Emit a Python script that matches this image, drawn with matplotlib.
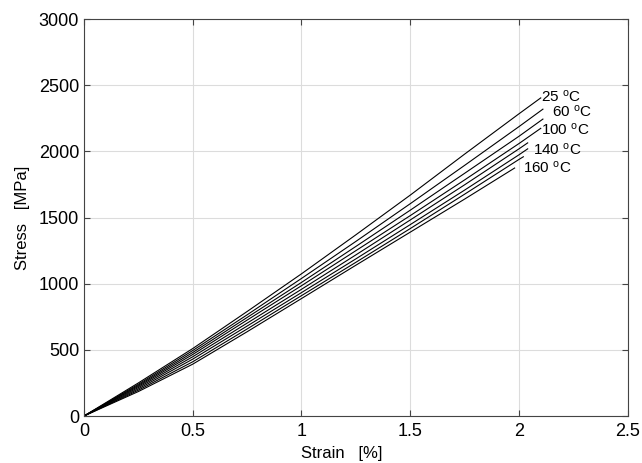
import numpy as np
import matplotlib
matplotlib.use("Agg")
import matplotlib.pyplot as plt

plt.rcParams['font.family'] = ['Liberation Sans', 'DejaVu Sans']
plt.rcParams['mathtext.fontset'] = 'custom'
plt.rcParams['mathtext.rm'] = 'Liberation Sans'
plt.rcParams['mathtext.default'] = 'regular'

# strain [%] sample points, last point of each curve is its own end
strain_pts = [0, 0.25, 0.5, 0.75, 1.0, 1.25, 1.5, 1.75, 2.0]
end_strain = [2.10, 2.11, 2.11, 2.10, 2.04, 2.04, 2.02, 1.98]
end_stress = [2405, 2320, 2245, 2175, 2065, 2020, 1960, 1875]

c0 = [0, 250, 510, 790, 1075, 1370, 1670, 1980, 2285]
c1 = [0, 240, 495, 765, 1040, 1320, 1605, 1895, 2188]
c2 = [0, 232, 480, 745, 1010, 1282, 1556, 1835, 2115]
c3 = [0, 224, 465, 725, 985, 1250, 1515, 1785, 2060]
c4 = [0, 215, 448, 702, 958, 1218, 1482, 1748, 2020]
c5 = [0, 205, 430, 680, 933, 1188, 1447, 1708, 1975]
c6 = [0, 195, 410, 658, 910, 1162, 1417, 1677, 1940]
c7 = [0, 185, 392, 637, 888, 1140, 1390, 1640]
curves = [c0, c1, c2, c3, c4, c5, c6, c7]

labels = ['25 $^o$C', '60 $^o$C', '100 $^o$C', '140 $^o$C', '160 $^o$C']
label_x = [2.10, 2.15, 2.10, 2.064, 2.018]
label_y = [2415, 2298, 2162, 2011, 1875]

fig = plt.figure(figsize=(6.42, 4.63), dpi=100)
ax = fig.add_axes([0.1308, 0.1015, 0.847, 0.857])

for i, c in enumerate(curves):
    xs = strain_pts[:len(c)] + [end_strain[i]]
    ys = c + [end_stress[i]]
    ax.plot(xs, ys, color='black', lw=0.8)

for t, lx, ly in zip(labels, label_x, label_y):
    ax.text(lx, ly, t, fontsize=11, ha='left', va='center')

ax.set_xlim(0, 2.5)
ax.set_ylim(0, 3000)
ax.set_xticks([0, 0.5, 1, 1.5, 2, 2.5])
ax.set_xticklabels(['0', '0.5', '1', '1.5', '2', '2.5'])
ax.set_yticks(np.arange(0, 3001, 500))
ax.grid(True, color='#dcdcdc', lw=0.8)
ax.set_axisbelow(True)
ax.tick_params(direction='in', length=4, labelsize=13, top=True, right=True,
               color='#444444')
ax.tick_params(axis='x', pad=5)
for s in ax.spines.values():
    s.set_color('#444444')
    s.set_linewidth(0.8)
ax.set_xlabel('Strain   [%]', fontsize=12, labelpad=4)
ax.xaxis.set_label_coords(0.474, -0.075)
ax.set_ylabel('Stress   [MPa]', fontsize=12, labelpad=6)

fig.savefig('out.png', dpi=100)
